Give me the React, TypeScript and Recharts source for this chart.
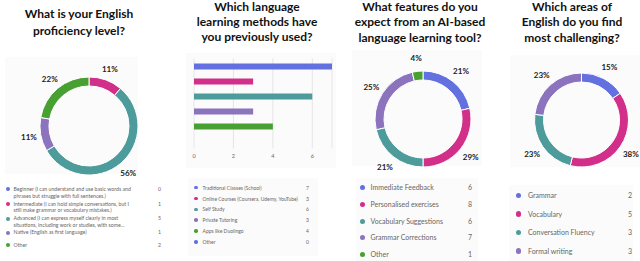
import React from 'react';
import { PieChart, Pie, Cell, BarChart, Bar, XAxis, YAxis, CartesianGrid } from 'recharts';

const COLORS = ['#6370e0', '#d12f8a', '#4d9c9b', '#8c73bd', '#48a033'];

// chart 1
const levelLabels = [
  'Beginner (I can understand and use basic words and phrases but struggle with full sentences.)',
  'Intermediate (I can hold simple conversations, but I still make grammar or vocabulary mistakes.)',
  'Advanced (I can express myself clearly in most situations, including work or studies, with some...',
  'Native (English as first language)',
  'Other',
];
const levelValues = [0, 1, 5, 1, 2];

// chart 2
const methodLabels = [
  'Traditional Classes (School)',
  'Online Courses (Coursera, Udemy, YouTube)',
  'Self Study',
  'Private Tutoring',
  'Apps like Duolingo',
  'Other',
];
const methodValues = [7, 3, 6, 3, 4, 0];
const methodTicks = [0, 2, 4, 6];

// chart 3
const featureLabels = [
  'Immediate Feedback',
  'Personalised exercises',
  'Vocabulary Suggestions',
  'Grammar Corrections',
  'Other',
];
const featureValues = [6, 8, 6, 7, 1];

// chart 4
const areaLabels = ['Grammar', 'Vocabulary', 'Conversation Fluency', 'Formal writing'];
const areaValues = [2, 5, 3, 3];

const FONT = 'Lato, "Open Sans", sans-serif';
const RADIAN = Math.PI / 180;

const toRows = (labels: string[], values: number[]) =>
  labels.map((name, i) => ({ name, value: values[i], color: COLORS[i % COLORS.length] }));

const Title: React.FC<{ lines: string[]; cx: number; top: number; lh: number }> = ({ lines, cx, top, lh }) => (
  <div
    style={{
      position: 'absolute',
      left: cx - 90,
      top,
      width: 180,
      textAlign: 'center',
      fontFamily: FONT,
      fontWeight: 700,
      fontSize: 12,
      lineHeight: `${lh}px`,
      color: '#111',
    }}
  >
    {lines.map((l) => (
      <div key={l}>{l}</div>
    ))}
  </div>
);

interface DonutProps {
  data: { name: string; value: number; color: string }[];
  left: number;
  top: number;
  cx: number;
  cy: number;
  outer: number;
  inner: number;
  labelR: number;
}

const Donut: React.FC<DonutProps> = ({ data, left, top, cx, cy, outer, inner, labelR }) => {
  const shown = data.filter((d) => d.value > 0);
  const renderLabel = (p: any) => {
    const x = p.cx + labelR * Math.cos(-p.midAngle * RADIAN);
    const y = p.cy + labelR * Math.sin(-p.midAngle * RADIAN);
    return (
      <text
        x={x}
        y={y}
        textAnchor="middle"
        dominantBaseline="central"
        fontFamily={FONT}
        fontWeight={700}
        fontSize={8}
        fill="#222"
      >
        {`${Math.round(p.percent * 100)}%`}
      </text>
    );
  };
  return (
    <div style={{ position: 'absolute', left, top }}>
      <PieChart width={160} height={140}>
        <Pie
          data={shown}
          dataKey="value"
          cx={cx}
          cy={cy}
          innerRadius={inner}
          outerRadius={outer}
          startAngle={90}
          endAngle={-270}
          stroke="#fff"
          strokeWidth={1}
          label={renderLabel}
          labelLine={false}
          isAnimationActive={false}
        >
          {shown.map((d) => (
            <Cell key={d.name} fill={d.color} />
          ))}
        </Pie>
      </PieChart>
    </div>
  );
};

interface LegendProps {
  data: { name: string; value: number; color: string }[];
  dotX: number;
  textX: number;
  numX: number;
  rows: number[];
  fontSize: number;
  dot: number;
  lineHeight: number;
  textWidth?: number;
}

const ListLegend: React.FC<LegendProps> = ({ data, dotX, textX, numX, rows, fontSize, dot, lineHeight, textWidth }) => (
  <>
    {data.map((d, i) => (
      <React.Fragment key={d.name}>
        <div
          style={{
            position: 'absolute',
            left: dotX - dot / 2,
            top: rows[i] - dot / 2,
            width: dot,
            height: dot,
            borderRadius: '50%',
            background: d.color,
          }}
        />
        <div
          style={{
            position: 'absolute',
            left: textX,
            top: rows[i] - lineHeight / 2,
            width: textWidth ?? 200,
            fontFamily: FONT,
            fontSize,
            lineHeight: `${lineHeight}px`,
            color: '#666',
            whiteSpace: textWidth ? 'normal' : 'nowrap',
          }}
        >
          {d.name}
        </div>
        <div
          style={{
            position: 'absolute',
            left: numX - 10,
            top: rows[i] - lineHeight / 2,
            width: 10,
            textAlign: 'right',
            fontFamily: FONT,
            fontSize,
            lineHeight: `${lineHeight}px`,
            color: '#666',
          }}
        >
          {d.value}
        </div>
      </React.Fragment>
    ))}
  </>
);

const Box: React.FC<{ x: number; y: number; w: number; h: number }> = ({ x, y, w, h }) => (
  <div style={{ position: 'absolute', left: x, top: y, width: w, height: h, background: '#fbfbfb' }} />
);

const App: React.FC = () => {
  const levels = toRows(levelLabels, levelValues);
  const methods = toRows(methodLabels, methodValues);
  const features = toRows(featureLabels, featureValues);
  const areas = toRows(areaLabels, areaValues);

  return (
    <div
      style={{
        position: 'absolute',
        left: 0,
        top: 0,
        width: 640,
        height: 261,
        overflow: 'hidden',
        background: '#fff',
      }}
    >
      <Box x={5} y={57} w={133} h={117} />
      <Box x={186} y={53} w={150} h={115} />
      <Box x={188} y={178} w={130} h={78} />
      <Box x={352} y={50} w={130} h={116} />
      <Box x={356} y={178} w={122} h={83} />
      <Box x={510} y={55} w={130} h={112} />
      <Box x={509} y={185} w={124} h={76} />

      <Title lines={['What is your English', 'proficiency level?']} cx={79} top={6} lh={16.5} />
      <Title lines={['Which language', 'learning methods have', 'you previously used?']} cx={257} top={-1} lh={15.2} />
      <Title lines={['What features do you', 'expect from an AI-based', 'language learning tool?']} cx={420} top={-1} lh={15.3} />
      <Title lines={['Which areas of', 'English do you find', 'most challenging?']} cx={572} top={-1} lh={15.3} />

      <Donut data={levels} left={0} top={50} cx={84} cy={71} outer={49} inner={40} labelR={61} />
      <Donut data={features} left={340} top={45} cx={78} cy={69} outer={48} inner={39} labelR={61} />
      <Donut data={areas} left={480} top={45} cx={96.5} cy={70} outer={47} inner={38} labelR={60} />

      <div style={{ position: 'absolute', left: 185, top: 50 }}>
        <BarChart
          width={160}
          height={120}
          data={methods}
          layout="vertical"
          margin={{ top: 8.5, right: 13, left: 9, bottom: 0 }}
          barSize={6}
        >
          <CartesianGrid horizontal={false} stroke="#e6e6e6" />
          <XAxis
            type="number"
            domain={[0, 7]}
            ticks={methodTicks}
            axisLine={false}
            tickLine={false}
            tickSize={4}
            tickMargin={2}
            height={21.5}
            tick={{ fontSize: 5.5, fill: '#666', fontFamily: FONT }}
          />
          <YAxis type="category" dataKey="name" hide width={0} />
          <Bar dataKey="value" isAnimationActive={false}>
            {methods.map((d) => (
              <Cell key={d.name} fill={d.color} />
            ))}
          </Bar>
        </BarChart>
      </div>

      <ListLegend
        data={levels}
        dotX={7.5}
        textX={13.5}
        numX={161}
        rows={[189.3, 204, 218.5, 232.7, 245]}
        fontSize={5.2}
        dot={4}
        lineHeight={6.8}
        textWidth={124}
      />
      <ListLegend
        data={methods}
        dotX={196}
        textX={202.5}
        numX={309}
        rows={[187.7, 198.5, 209.3, 220.2, 231, 242]}
        fontSize={5}
        dot={3.5}
        lineHeight={6}
      />
      <ListLegend
        data={features}
        dotX={362.5}
        textX={370.5}
        numX={472}
        rows={[187, 204, 221, 237.5, 254]}
        fontSize={7}
        dot={5}
        lineHeight={9}
      />
      <ListLegend
        data={areas}
        dotX={518.7}
        textX={528}
        numX={632}
        rows={[195.3, 214, 232.7, 251]}
        fontSize={7}
        dot={5.5}
        lineHeight={9}
      />
    </div>
  );
};

export default App;
